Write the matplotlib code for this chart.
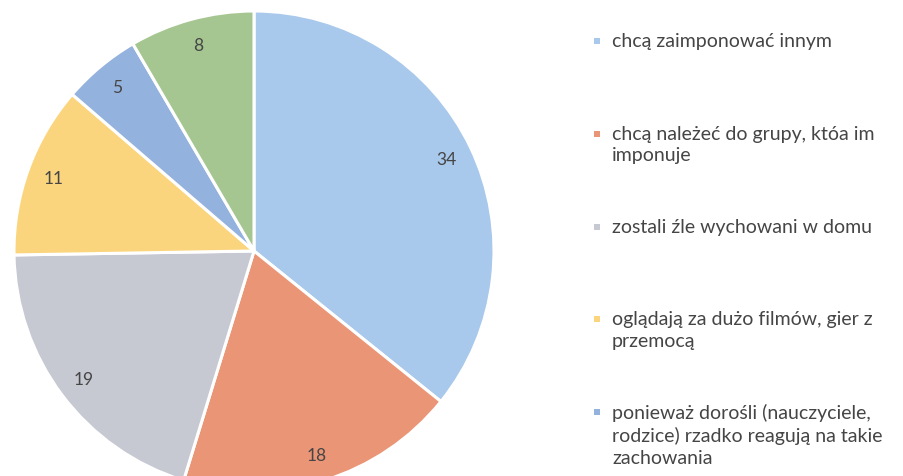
import matplotlib.pyplot as plt
from matplotlib.patches import Rectangle

plt.rcParams['font.family'] = ['Lato', 'DejaVu Sans']

# data
labels = [
    'chcą zaimponować innym',
    'chcą należeć do grupy, któa im\nimponuje',
    'zostali źle wychowani w domu',
    'oglądają za dużo filmów, gier z\nprzemocą',
    'ponieważ dorośli (nauczyciele,\nrodzice) rzadko reagują na takie\nzachowania',
    'inne',
]
values = [34, 18, 19, 11, 5, 8]
colors = ['#a8c8ec', '#ea9576', '#c6c8d2', '#fbd57e', '#94b2de', '#a5c690']

fig = plt.figure(figsize=(9.04, 4.77), dpi=100)
W, H = 904, 477

# pie axes placed in pixel coordinates (center ~ (254, 252), radius ~240)
cx, cy, r = 254, 252, 240
ax = fig.add_axes([(cx - r) / W, (H - cy - r) / H, 2 * r / W, 2 * r / H])
wedges, texts = ax.pie(values, colors=colors, startangle=90, counterclock=False,
                       labels=[str(v) for v in values], labeldistance=0.89,
                       wedgeprops=dict(edgecolor='white', linewidth=2.2),
                       textprops=dict(color='#454545', fontsize=12.5))
for t in texts:
    t.set_ha('center')
    t.set_va('center')
ax.set_xlim(-1, 1)
ax.set_ylim(-1, 1)
ax.set_aspect('equal')
ax.axis('off')

# legend (only first five entries visible in the source)
x_mark, x_text = 597, 612
y0, step = 42, 92.8
for i in range(5):
    y = y0 + i * step
    fig.patches.append(Rectangle(((x_mark - 3) / W, (H - y - 3) / H), 6 / W, 6 / H,
                                 transform=fig.transFigure, facecolor=colors[i],
                                 edgecolor='none'))
    fig.text(x_text / W, (H - y + 9) / H, labels[i], ha='left', va='top',
             fontsize=14, color='#454545', linespacing=1.32)

fig.savefig('out.png', dpi=100)
